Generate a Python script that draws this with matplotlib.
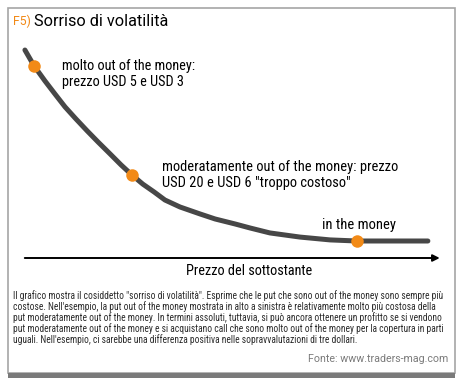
"""Volatility smile figure (F5) recreated with matplotlib."""

import matplotlib

matplotlib.use("Agg")
import matplotlib.pyplot as plt
from matplotlib import font_manager
from matplotlib.patches import Rectangle

# curve: underlying price (x) vs implied volatility (y), 0-100 scale
price = [0.7, 2.9, 5.5, 7.9, 10.3, 12.9, 15.6, 18.2, 21.1, 23.7, 26.3, 28.9, 31.6,
         34.2, 37.8, 42.6, 46.2, 51.0, 54.5, 59.3, 66.5, 73.7, 80.1, 88.0, 97.1]
volatility = [95.4, 88.1, 81.2, 75.2, 69.3, 63.8, 58.3, 53.2, 47.7, 42.7, 38.1, 33.9, 30.3,
              26.6, 23.4, 20.2, 17.9, 15.6, 13.8, 11.5, 9.6, 8.3, 7.8, 7.8, 7.8]
marked = [1, 10, 22]  # points highlighted in orange

title_tag = "F5)"
title = "Sorriso di volatilità"
labels = [
    "molto out of the money:\nprezzo USD 5 e USD 3",
    "moderatamente out of the money: prezzo\nUSD 20 e USD 6 \"troppo costoso\"",
    "in the money",
]
x_label = "Prezzo del sottostante"
caption = [
    "Il grafico mostra il cosiddetto \"sorriso di volatilità\". Esprime che le put che sono out of the money sono sempre più",
    "costose. Nell'esempio, la put out of the money mostrata in alto a sinistra è relativamente molto più costosa della",
    "put moderatamente out of the money. In termini assoluti, tuttavia, si può ancora ottenere un profitto se si vendono",
    "put moderatamente out of the money e si acquistano call che sono molto out of the money per la copertura in parti",
    "uguali. Nell'esempio, ci sarebbe una differenza positiva nelle sopravvalutazioni di tre dollari.",
]
source = "Fonte: www.traders-mag.com"

ORANGE = "#f28a17"
CURVE = "#474747"

installed = {f.name for f in font_manager.fontManager.ttflist}
NARROW = "Roboto"
for cand in ["Liberation Sans Narrow", "Roboto Condensed", "DejaVu Sans Condensed", "Open Sans Condensed"]:
    if cand in installed:
        NARROW = cand
        break
REGULAR = "Roboto"

W, H = 464, 386
fig = plt.figure(figsize=(W / 100, H / 100), dpi=100)
renderer = fig.canvas.get_renderer()


def fit(texts, target_px):
    """Scale font size of a group of texts so the widest one spans target_px."""
    widest = max(t.get_window_extent(renderer).width for t in texts)
    for t in texts:
        t.set_fontsize(t.get_fontsize() * target_px / widest)


# overlay in pixel coordinates for the frame and the text blocks
bg = fig.add_axes([0, 0, 1, 1])
bg.set_xlim(0, W)
bg.set_ylim(H, 0)
bg.axis("off")
bg.add_patch(Rectangle((8, 8), 447, 365, fill=False, edgecolor="#a5a5a5", lw=1.2))
bg.add_patch(Rectangle((8, 373), 447, 5, facecolor="#7a7a7a", edgecolor="none"))

t_title = bg.text(34, 21, title, color="black", fontsize=10, family=REGULAR, va="center")
fit([t_title], 133)
t_tag = bg.text(13, 21, title_tag, color=ORANGE, fontsize=t_title.get_fontsize(),
                family=REGULAR, va="center")
fit([t_tag], 18)

t1 = bg.text(62, 74, labels[0], fontsize=10, family=NARROW, va="center", linespacing=1.15)
fit([t1], 133)
t2 = bg.text(162, 175, labels[1], fontsize=10, family=NARROW, va="center", linespacing=1.15)
fit([t2], 234)
t3 = bg.text(322, 225, labels[2], fontsize=10, family=NARROW, va="center")
fit([t3], 73)
tx = bg.text(249, 271, x_label, fontsize=10, family=NARROW, va="center", ha="center")
fit([tx], 126)

cap = [bg.text(13, 296 + i * 10.9, line, fontsize=7, family=NARROW, va="center", color="#2a2a2a")
       for i, line in enumerate(caption)]
fit(cap, 435)
ts = bg.text(448, 359, source, fontsize=8, family=REGULAR, va="center", ha="right", color="#7a7a7a")
fit([ts], 141)

# chart area: x from 22 to 440 px, y from 258 (bottom) to 40 (top)
ax = fig.add_axes([22 / W, (H - 258) / H, 418 / W, 218 / H])
ax.set_xlim(0, 100)
ax.set_ylim(0, 100)
ax.axis("off")
ax.plot(price, volatility, color=CURVE, lw=3.6, solid_capstyle="round", solid_joinstyle="round")
ax.plot([price[i] for i in marked], [volatility[i] for i in marked], "o",
        color=ORANGE, markersize=9, markeredgewidth=0, zorder=3)
ax.annotate("", xy=(100.6, 0), xytext=(0, 0), xycoords="data",
            arrowprops=dict(arrowstyle="-|>", color="black", lw=1.4, mutation_scale=10),
            annotation_clip=False)

fig.savefig("out.png", dpi=100)
